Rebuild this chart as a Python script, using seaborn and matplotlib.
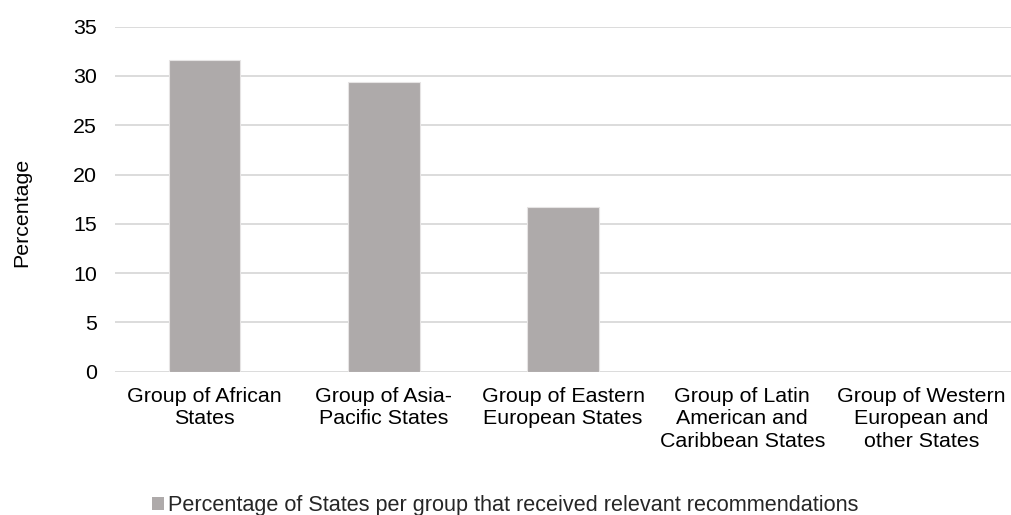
import matplotlib
matplotlib.use("Agg")
import matplotlib.pyplot as plt
from matplotlib.patches import Patch
import seaborn as sns
import pandas as pd

# Share of States in each regional group that received relevant recommendations
groups = [
    "Group of African\nStates",
    "Group of Asia-\nPacific States",
    "Group of Eastern\nEuropean States",
    "Group of Latin\nAmerican and\nCaribbean States",
    "Group of Western\nEuropean and\nother States",
]
percentages = [31.6, 29.4, 16.7, 0, 0]
series_name = "Percentage of States per group that received relevant recommendations"
y_ticks = [0, 5, 10, 15, 20, 25, 30, 35]

df = pd.DataFrame({"group": groups, "pct": percentages})

sns.set_theme(style="white")
plt.rcParams["font.family"] = ["Liberation Sans", "DejaVu Sans"]

FS = 15.4
BAR = "#aeaaaa"

fig = plt.figure(figsize=(10.11, 5.15), dpi=100)
ax = fig.add_axes([115 / 1011, 1 - 371.7 / 515, 1 - 115 / 1011, (371.7 - 26.7) / 515])

sns.barplot(data=df, x="group", y="pct", color=BAR, width=0.4,
            saturation=1, edgecolor="#e6e4e4", linewidth=0.8, ax=ax, zorder=3)

ax.set_ylim(0, 35)
ax.set_xlim(-0.5, len(groups) - 0.5)
ax.set_yticks(y_ticks)
ax.yaxis.grid(True, color="#d9d9d9", linewidth=1.3, zorder=0)
ax.set_axisbelow(True)
for s in ax.spines.values():
    s.set_visible(False)

ax.tick_params(axis="y", length=0, pad=13, labelsize=FS, labelcolor="black")
ax.tick_params(axis="x", length=0, pad=11, labelsize=FS, labelcolor="black")
for lbl in ax.get_xticklabels():
    lbl.set_linespacing(1.22)

ax.set_xlabel("")
ax.set_ylabel("")
fig.text(22 / 1011, 1 - 212.5 / 515, "Percentage", rotation=90,
         ha="center", va="center", fontsize=FS, color="black")

handle = Patch(facecolor=BAR, edgecolor="none")
fig.legend([handle], [series_name], loc="center left",
           bbox_to_anchor=(143 / 1011, 1 - 506 / 515), frameon=False,
           fontsize=15.6, handlelength=0.55, handleheight=0.55,
           handletextpad=0.2, borderaxespad=0)

fig.savefig("out.png", dpi=100)
